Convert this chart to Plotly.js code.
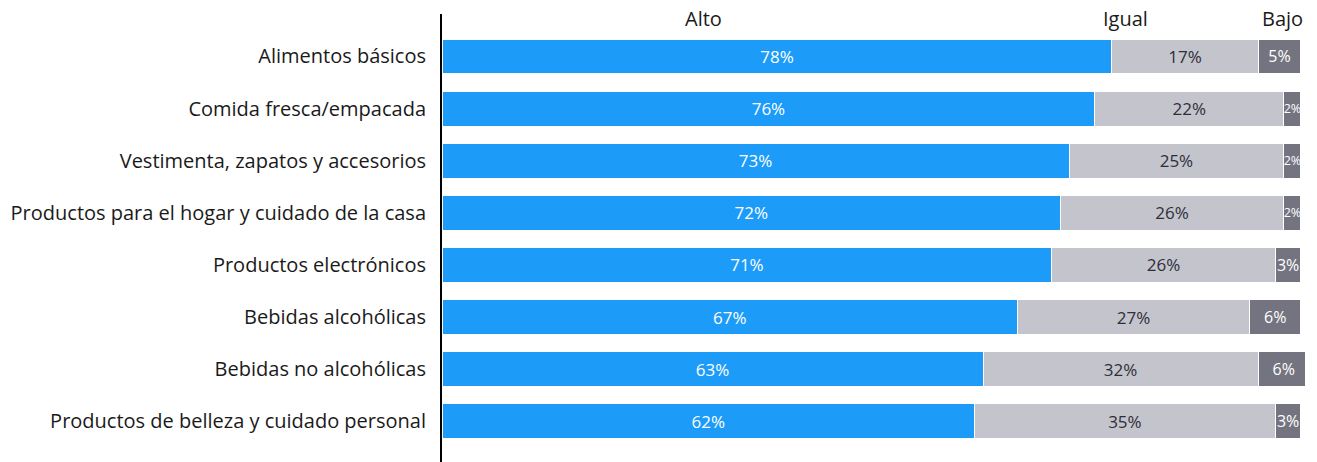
<!DOCTYPE html>
<html>
<head>
<meta charset="utf-8">
<script src="https://cdn.plot.ly/plotly-3.0.1.min.js"></script>
<style>
html,body{margin:0;padding:0;background:#fff;}
#chart{width:1317px;height:462px;}
</style>
</head>
<body>
<div id="chart"></div>
<script>
const categories = [
  "Alimentos básicos",
  "Comida fresca/empacada",
  "Vestimenta, zapatos y accesorios",
  "Productos para el hogar y cuidado de la casa",
  "Productos electrónicos",
  "Bebidas alcohólicas",
  "Bebidas no alcohólicas",
  "Productos de belleza y cuidado personal"
];
const alto  = [78, 76, 73, 72, 71, 67, 63, 62];
const igual = [17, 22, 25, 26, 26, 27, 32, 35];
const bajo  = [5, 2, 2, 2, 3, 6, 6, 3];
const seriesNames = ["Alto", "Igual", "Bajo"];

const FONT = "'Open Sans', Roboto, sans-serif";
function pct(a){ return a.map(v => v + "%"); }

function mk(name, vals, color, txtColor, size){
  return {
    type: "bar", orientation: "h", name: name,
    y: categories, x: vals,
    text: pct(vals), textposition: "inside", insidetextanchor: "middle",
    constraintext: "none", textangle: 0,
    textfont: {family: FONT, size: size, color: txtColor},
    marker: {color: color, line: {color: "#ffffff", width: 1}},
    hoverinfo: "skip"
  };
}

// smaller label font only where the segment is too narrow for the text
const bajoSizes = bajo.map(v => v < 3 ? 12.5 : 16);

const data = [
  mk(seriesNames[0], alto, "#1C9BF8", "#ffffff", 17),
  mk(seriesNames[1], igual, "#C4C4CD", "#2E2E38", 17),
  mk(seriesNames[2], bajo, "#747480", "#ffffff", bajoSizes)
];

const layout = {
  width: 1317, height: 462,
  margin: {l: 442, r: 12, t: 14, b: 0, pad: 0},
  paper_bgcolor: "#ffffff", plot_bgcolor: "#ffffff",
  barmode: "stack", bargap: 0.33,
  showlegend: false,
  font: {family: FONT, color: "#1a1a1a"},
  xaxis: {range: [0, 100.47], visible: false, fixedrange: true},
  yaxis: {
    type: "category",
    categoryorder: "array", categoryarray: categories,
    range: [7.78, -0.815],
    showline: true, linecolor: "#000000", linewidth: 2,
    showgrid: false, zeroline: false,
    ticks: "outside", ticklen: 10, tickcolor: "rgba(0,0,0,0)",
    tickfont: {family: FONT, size: 20, color: "#1a1a1a"}
  },
  annotations: [
    {text: seriesNames[0], x: 30.5, xref: "x", y: 0.991, yref: "paper", xanchor: "center", yanchor: "middle", showarrow: false, font: {family: FONT, size: 20, color: "#1a1a1a"}},
    {text: seriesNames[1], x: 79.6, xref: "x", y: 0.991, yref: "paper", xanchor: "center", yanchor: "middle", showarrow: false, font: {family: FONT, size: 20, color: "#1a1a1a"}},
    {text: seriesNames[2], x: 97.9, xref: "x", y: 0.991, yref: "paper", xanchor: "center", yanchor: "middle", showarrow: false, font: {family: FONT, size: 20, color: "#1a1a1a"}}
  ]
};

Plotly.newPlot("chart", data, layout, {displayModeBar: false, staticPlot: true});
</script>
</body>
</html>
